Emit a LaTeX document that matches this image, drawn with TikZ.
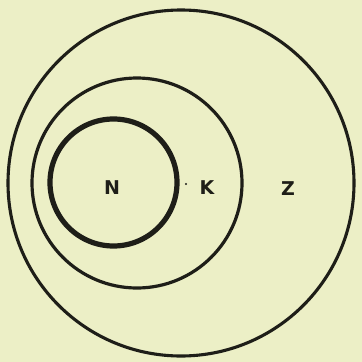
\documentclass[tikz,border=0pt]{standalone}
\usepackage{fontspec}
\setmainfont{DejaVu Sans}
\definecolor{paper}{RGB}{236,239,198}
\definecolor{ink}{RGB}{30,30,24}
\begin{document}
\begin{tikzpicture}[x=1pt,y=-1pt,
  ring/.style={draw=ink},
  lbl/.style={text=ink,font=\fontsize{19}{19}\selectfont\bfseries,inner sep=0pt}]
\fill[paper] (0,0) rectangle (362,362);
\useasboundingbox (0,0) rectangle (362,362);
\draw[ring,line width=3.1pt] (181,183) circle [radius=173];
\draw[ring,line width=3.2pt] (137,183) circle [radius=105];
\draw[ring,line width=5.2pt] (113.5,182.5) circle [radius=63.5];
\node[lbl] (N) at (112,188) {N};
\node[lbl] (K) at (207,188) {K};
\node[lbl] (Z) at (288,189) {Z};
\fill[ink] (186,184) circle [radius=1.2];
\end{tikzpicture}
\end{document}
